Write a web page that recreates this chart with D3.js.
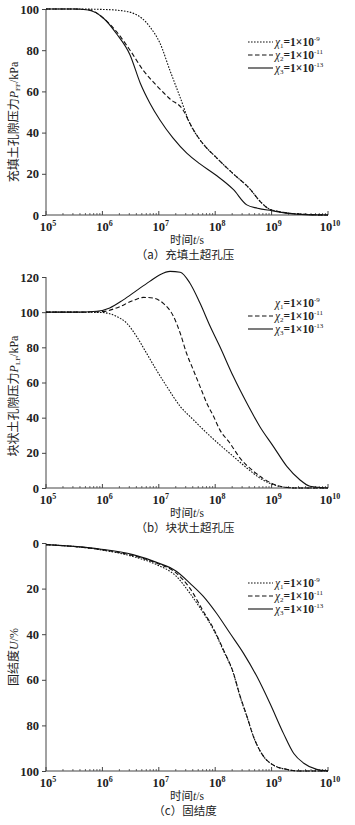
<!DOCTYPE html>
<html><head><meta charset="utf-8">
<script src="https://cdn.jsdelivr.net/npm/d3@7"></script>
<style>body{margin:0;background:#fff}svg{display:block}</style>
</head><body>
<script>
// ---- data (time exponents log10(t/s) and values) ----
const seriesNames = ["χ1", "χ2", "χ3"];
const legendExp = ["-9", "-11", "-13"];
const xTickExps = [5, 6, 7, 8, 9, 10];

// panel (a) 充填土超孔压
const aX1 = [5,5.5,6.0,6.3,6.54,6.7,6.84,7.02,7.2,7.38,7.55,7.73,8.03,8.32,8.62,8.8,8.95,9.1,9.3,9.6,10];
const aY1 = [100,100,99.8,99.3,98,95.5,91.4,83.5,70,57,44.5,36.5,27.6,20,12.5,6.5,3,1.8,0.9,0.3,0];
const aX2 = [5,5.5,5.78,6.02,6.25,6.49,6.72,6.97,7.2,7.43,7.55,7.73,8.03,8.32,8.62,8.8,8.95,9.1,9.3,9.6,10];
const aY2 = [100,100,99.5,95.5,89,80,70.4,62.6,56.3,51,44.5,36.5,27.6,20,12.5,6.5,3,1.8,0.9,0.3,0];
const aX3 = [5,5.5,5.75,6.02,6.25,6.49,6.67,6.84,7.02,7.25,7.5,7.73,8.01,8.32,8.56,8.75,9.0,9.3,9.6,10];
const aY3 = [100,100,99.5,95.5,88,77.7,64.1,54.4,46.1,37.4,29.9,24.8,19.4,12.4,4.9,3.3,2.1,0.8,0.2,0];

// panel (b) 块状土超孔压
const bX1 = [5,5.5,6.0,6.25,6.43,6.61,6.78,6.96,7.14,7.38,7.61,7.85,8.08,8.32,8.56,8.79,9.03,9.2,9.5,10];
const bY1 = [100,100,99.8,97.6,93.8,86,76.8,67,57.8,46.4,38.9,31.3,24.6,18,11.4,5.7,1.9,0.6,0,0];
const bX2 = [5,5.5,6.0,6.25,6.55,6.73,6.9,7.08,7.26,7.38,7.49,7.61,7.73,7.85,7.97,8.08,8.26,8.44,8.68,8.91,9.15,9.4,10];
const bY2 = [100,100,100.3,102.4,106.7,108.4,108,105,97.6,88,76.8,67.3,57.8,48.3,40.8,33.2,25.6,17,9.5,4.2,1,0,0];
const bX3 = [5,5.5,5.9,6.13,6.37,6.61,6.84,7.02,7.2,7.38,7.55,7.73,7.91,8.08,8.32,8.56,8.79,9.03,9.27,9.5,9.68,10];
const bY3 = [100,100,100.5,102.4,107,112.4,117.5,121.3,123.2,122.7,116.6,105.2,92,80.6,63.5,48.3,35,23.7,12.3,4.7,1,0];

// panel (c) 固结度
const cX1 = [5,5.95,6.54,6.96,7.31,7.55,7.79,7.97,8.14,8.32,8.44,8.56,8.68,8.86,9.03,9.27,9.5,10];
const cY1 = [0.7,2.9,5.9,9.5,14.6,22,30.7,38,46.9,57,67.3,76,85,93.7,97.4,99.3,100,100];
const cX2 = [5,5.95,6.54,6.96,7.31,7.55,7.79,7.97,8.14,8.32,8.44,8.56,8.68,8.86,9.03,9.27,9.5,10];
const cY2 = [0.7,2.8,5.5,8.8,13.2,19.8,30,37.5,46.5,56.8,67,75.8,85,93.7,97.4,99.3,100,100];
const cX3 = [5,5.95,6.54,6.96,7.31,7.55,7.79,8.02,8.26,8.5,8.74,8.97,9.21,9.39,9.57,9.8,10];
const cY3 = [0.7,2.6,5.1,8.5,12.4,17.6,23.4,30.7,39.5,48.3,58.6,70.3,83.5,92.2,96.6,99.3,100];

const aTicks = [0,20,40,60,80,100];
const bTicks = [0,20,40,60,80,100,120];
const cTicks = [0,20,40,60,80,100];

// ---- drawing ----
const W = 355, H = 825;
const svg = d3.select("body").append("svg").attr("width", W).attr("height", H)
  .style("background", "#fff");
const serif = "Liberation Serif, Times New Roman, serif";
const cjk = "Noto Sans CJK SC, Liberation Serif, serif";
const dashes = ["1.6,1.4", "4.5,2.5", null];
const x = d3.scaleLog().domain([1e5, 1e10]).range([46, 328]);

const panels = [
  {top: 9, bottom: 215, dom: [0, 100], rev: false, ticks: aTicks,
   xs: [aX1, aX2, aX3], ys: [aY1, aY2, aY3],
   ytitle: ["充填土孔隙压力", "P", "FF", "/kPa"], ytc: 122,
   cap: "（a）充填土超孔压", legY: 42, legLines: [true, true, true]},
  {top: 277, bottom: 488, dom: [0, 120], rev: false, ticks: bTicks,
   xs: [bX1, bX2, bX3], ys: [bY1, bY2, bY3],
   ytitle: ["块状土孔隙压力", "P", "LF", "/kPa"], ytc: 396,
   cap: "（b）块状土超孔压", legY: 303, legLines: [false, true, true]},
  {top: 543, bottom: 771, dom: [0, 100], rev: true, ticks: cTicks,
   xs: [cX1, cX2, cX3], ys: [cY1, cY2, cY3],
   ytitle: ["固结度", "U", null, "/%"], ytc: 657,
   cap: "（c）固结度", legY: 583, legLines: [true, true, true]}
];

const axisColor = "#444";
panels.forEach(p => {
  const y = d3.scaleLinear().domain(p.dom)
    .range(p.rev ? [p.top, p.bottom] : [p.bottom, p.top]);
  const g = svg.append("g");
  const base = p.rev ? y(100) : y(0);

  // y axis
  const ya = g.append("g").attr("transform", "translate(46,0)")
    .call(d3.axisLeft(y).tickValues(p.ticks).tickSize(4).tickPadding(3).tickFormat(d3.format("d")));
  ya.attr("font-family", serif);
  ya.select(".domain").attr("stroke", axisColor).attr("d", `M0,${p.top}V${p.bottom}`);
  ya.selectAll(".tick line").attr("stroke", axisColor);
  ya.selectAll("text").attr("font-family", serif).attr("font-size", 12.5)
    .attr("font-weight", "bold").attr("fill", "#222");

  // x axis: inward ticks
  const minor = [];
  for (let e = 5; e < 10; e++) for (let k = 2; k <= 9; k++) minor.push(k * Math.pow(10, e));
  const xg = g.append("g").attr("transform", `translate(0,${base})`);
  xg.append("line").attr("x1", 46).attr("x2", 328).attr("stroke", axisColor);
  xg.selectAll("line.minor").data(minor).join("line").attr("class", "minor")
    .attr("x1", d => x(d)).attr("x2", d => x(d)).attr("y1", 0).attr("y2", -2)
    .attr("stroke", axisColor).attr("stroke-width", 0.8);
  xg.selectAll("line.major").data(xTickExps).join("line").attr("class", "major")
    .attr("x1", d => x(Math.pow(10, d))).attr("x2", d => x(Math.pow(10, d)))
    .attr("y1", 0).attr("y2", -4).attr("stroke", axisColor);
  const tl = xg.selectAll("text.tl").data(xTickExps).join("text").attr("class", "tl")
    .attr("x", d => x(Math.pow(10, d)) + 2).attr("y", 16).attr("text-anchor", "middle")
    .attr("font-family", serif).attr("font-size", 12.5).attr("font-weight", "bold").attr("fill", "#222");
  tl.append("tspan").text("10");
  tl.append("tspan").attr("dy", -5).attr("font-size", 8).text(d => d);

  // x title
  const xt = g.append("text").attr("x", 187).attr("y", base + 29).attr("text-anchor", "middle")
    .attr("font-family", cjk).attr("font-size", 11.5).attr("fill", "#222");
  xt.append("tspan").text("时间");
  xt.append("tspan").attr("font-family", serif).attr("font-style", "italic").text("t");
  xt.append("tspan").attr("font-family", serif).text("/s");

  // caption
  g.append("text").attr("x", 185).attr("y", base + 44).attr("text-anchor", "middle")
    .attr("font-family", cjk).attr("font-size", 11.5).attr("fill", "#222").text(p.cap);

  // y title
  const yt = g.append("text").attr("transform", `translate(18,${p.ytc}) rotate(-90)`)
    .attr("text-anchor", "middle").attr("font-family", cjk).attr("font-size", 12).attr("fill", "#222");
  yt.append("tspan").text(p.ytitle[0]);
  yt.append("tspan").attr("font-family", serif).attr("font-style", "italic").text(p.ytitle[1]);
  if (p.ytitle[2]) yt.append("tspan").attr("font-family", serif).attr("font-size", 7).attr("dy", 2).text(p.ytitle[2]);
  yt.append("tspan").attr("font-family", serif).attr("dy", p.ytitle[2] ? -2 : 0).text(p.ytitle[3]);

  // lines
  const line = d3.line().x(d => x(Math.pow(10, d[0]))).y(d => y(d[1])).curve(d3.curveMonotoneX);
  p.xs.forEach((xs, i) => {
    const pts = xs.map((e, j) => [e, p.ys[i][j]]);
    g.append("path").attr("d", line(pts)).attr("fill", "none").attr("stroke", "#111")
      .attr("stroke-width", 1.1).attr("stroke-dasharray", dashes[i]);
  });

  // legend
  seriesNames.forEach((nm, i) => {
    const ly = p.legY + i * 13;
    if (p.legLines[i]) g.append("line").attr("x1", 248).attr("x2", 273).attr("y1", ly).attr("y2", ly)
      .attr("stroke", "#111").attr("stroke-width", 1.1).attr("stroke-dasharray", dashes[i]);
    const t = g.append("text").attr("x", 275).attr("y", ly + 4).attr("font-family", serif)
      .attr("font-size", 11.5).attr("font-weight", "bold").attr("fill", "#222");
    t.append("tspan").attr("font-style", "italic").attr("font-weight", "normal").text("χ");
    t.append("tspan").attr("font-size", 7).attr("dy", 2).attr("font-weight", "normal").text(i + 1);
    t.append("tspan").attr("dy", -2).text("=1×10");
    t.append("tspan").attr("dy", -5).attr("font-size", 7).attr("font-weight", "normal").text(legendExp[i]);
  });
});
</script>
</body></html>
